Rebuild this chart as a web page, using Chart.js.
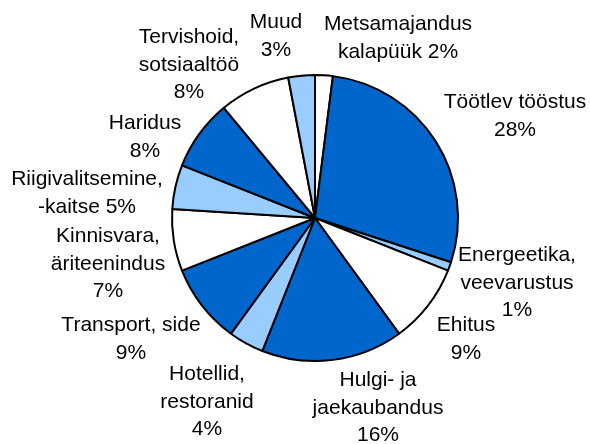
<!DOCTYPE html>
<html>
<head>
<meta charset="utf-8">
<script src="https://cdn.jsdelivr.net/npm/chart.js@4"></script>
<style>
  html, body { margin: 0; padding: 0; background: #fff; }
  #wrap { width: 590px; height: 444px; }
</style>
</head>
<body>
<div id="wrap"><canvas id="myChart" width="590" height="444"></canvas></div>
<script>
// data, clockwise from 12 o'clock
const categories = [
    'Metsamajandus\nkalapüük',
    'Töötlev tööstus',
    'Energeetika,\nveevarustus',
    'Ehitus',
    'Hulgi- ja\njaekaubandus',
    'Hotellid,\nrestoranid',
    'Transport, side',
    'Kinnisvara,\näriteenindus',
    'Riigivalitsemine,\n-kaitse',
    'Haridus',
    'Tervishoid,\nsotsiaaltöö',
    'Muud'
];
const shares = [2, 28, 1, 9, 16, 4, 9, 7, 5, 8, 8, 3];

// styling / layout (not data)
const BLUE = '#0066CC', LIGHT = '#99CCFF', WHITE = '#FFFFFF';
const sliceColors = [WHITE, BLUE, LIGHT, WHITE, BLUE, LIGHT, BLUE, WHITE, LIGHT, BLUE, WHITE, LIGHT];
const pctSameLine = [true, false, false, false, false, false, false, false, true, false, false, false];
// label block centre relative to pie centre, in units of a 143px radius
const labelOffsets = [
    [83, -180], [200, -102], [202, 65], [151, 121], [63, 190], [-108, 184],
    [-184, 121], [-207, 46], [-228, -25], [-170, -81], [-126, -153], [-39, -182]
];
const FONT_SIZE = 21;
const LINE_H = 27.5;

const outsideLabels = {
    id: 'outsideLabels',
    afterDatasetsDraw(chart) {
        const ctx = chart.ctx;
        const arcs = chart.getDatasetMeta(0).data;
        ctx.save();
        ctx.font = FONT_SIZE + 'px "Liberation Sans", Arial, sans-serif';
        ctx.fillStyle = '#000';
        ctx.textAlign = 'center';
        ctx.textBaseline = 'middle';
        arcs.forEach((arc, i) => {
            const s = arc.outerRadius / 143;
            const cx = arc.x + labelOffsets[i][0] * s;
            const cy = arc.y + labelOffsets[i][1] * s;
            let lines = categories[i].split('\n');
            if (pctSameLine[i]) {
                lines[lines.length - 1] += ' ' + shares[i] + '%';
            } else {
                lines.push(shares[i] + '%');
            }
            const top = cy - (lines.length - 1) * LINE_H / 2;
            lines.forEach((ln, k) => ctx.fillText(ln, cx, top + k * LINE_H));
        });
        ctx.restore();
    }
};

const ctx = document.getElementById('myChart');
const myChart = new Chart(ctx, {
    type: 'pie',
    data: {
        labels: categories,
        datasets: [{
            data: shares,
            backgroundColor: sliceColors,
            borderColor: '#000',
            borderWidth: 2
        }]
    },
    options: {
        responsive: false,
        animation: false,
        layout: {
            padding: { top: 74, bottom: 82, left: 171, right: 131 }
        },
        plugins: {
            legend: { display: false },
            tooltip: { enabled: false }
        }
    },
    plugins: [outsideLabels]
});
</script>
</body>
</html>
